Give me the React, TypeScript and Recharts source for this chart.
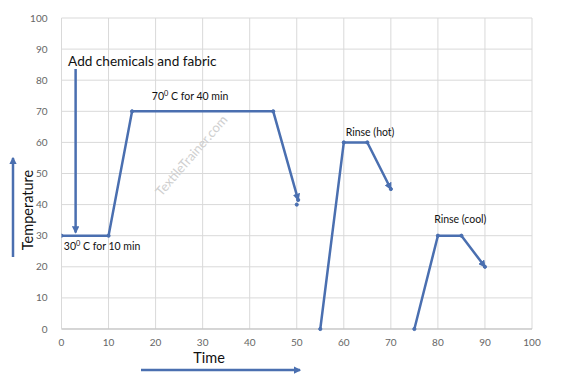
import React from 'react';
import { LineChart, Line, XAxis, YAxis, CartesianGrid, ReferenceDot } from 'recharts';

// wash cycle profile
const mainTime = [0, 10, 15, 45, 50.3];
const mainTemp = [30, 30, 70, 70, 41.5];
const dropTime = [50];
const dropTemp = [40];
const hotTime = [55, 60, 65, 70];
const hotTemp = [0, 60, 60, 45];
const coolTime = [75, 80, 85, 90];
const coolTemp = [0, 30, 30, 20];
const addTime = [3, 3];
const addTemp = [83.6, 31];

const ticks = [0, 10, 20, 30, 40, 50, 60, 70, 80, 90, 100];

const toRows = (xs: number[], ys: number[]) => xs.map((t, i) => ({ time: t, temp: ys[i] }));

const BLUE = '#4a6fb0';
const FONT = 'Lato, "Open Sans", sans-serif';

const notes = [
  { x: 1.4, y: 84.6, text: 'Add chemicals and fabric', size: 13.6 },
  { x: 19.2, y: 73.6, text: '70', sup: true, rest: ' C for 40 min', size: 10.5 },
  { x: 0.5, y: 25.4, text: '30', sup: true, rest: ' C for 10 min', size: 10.5 },
  { x: 60.4, y: 62.1, text: 'Rinse (hot)', size: 10.5 },
  { x: 79.2, y: 34, text: 'Rinse (cool)', size: 10.5 },
];

const dot = { r: 1.6, fill: BLUE, stroke: BLUE, strokeWidth: 1 };

export default function App() {
  return (
    <div style={{ position: 'absolute', left: 0, top: 0, background: '#fff' }}>
      <LineChart width={566} height={382} margin={{ top: 18, right: 34, bottom: 23, left: 21.5 }}>
        <defs>
          <marker id="arrowHead" viewBox="0 0 6 6" refX="5" refY="3" markerWidth="3" markerHeight="3" orient="auto">
            <path d="M0,0 L6,3 L0,6 z" fill={BLUE} />
          </marker>
        </defs>
        <CartesianGrid stroke="#d9d9d9" strokeWidth={1} />
        <XAxis
          type="number"
          dataKey="time"
          domain={[0, 100]}
          ticks={ticks}
          allowDataOverflow
          height={30}
          axisLine={{ stroke: '#bfbfbf' }}
          tickLine={false}
          tick={{ fill: '#666', fontSize: 10, fontFamily: FONT }}
          tickMargin={4}
        />
        <YAxis
          type="number"
          dataKey="temp"
          domain={[0, 100]}
          ticks={ticks}
          width={40}
          axisLine={{ stroke: '#d9d9d9' }}
          tickLine={false}
          tick={{ fill: '#666', fontSize: 10, fontFamily: FONT }}
          tickMargin={8}
        />
        <Line data={toRows(mainTime, mainTemp)} dataKey="temp" type="linear" stroke={BLUE} strokeWidth={2.5} dot={dot} markerEnd="url(#arrowHead)" isAnimationActive={false} />
        <Line data={toRows(dropTime, dropTemp)} dataKey="temp" type="linear" stroke={BLUE} strokeWidth={2.5} dot={dot} isAnimationActive={false} />
        <Line data={toRows(hotTime, hotTemp)} dataKey="temp" type="linear" stroke={BLUE} strokeWidth={2.5} dot={dot} markerEnd="url(#arrowHead)" isAnimationActive={false} />
        <Line data={toRows(coolTime, coolTemp)} dataKey="temp" type="linear" stroke={BLUE} strokeWidth={2.5} dot={dot} markerEnd="url(#arrowHead)" isAnimationActive={false} />
        <Line data={toRows(addTime, addTemp)} dataKey="temp" type="linear" stroke={BLUE} strokeWidth={2.5} dot={false} markerEnd="url(#arrowHead)" isAnimationActive={false} />
        {notes.map((n) => (
          <ReferenceDot
            key={n.text + n.x}
            x={n.x}
            y={n.y}
            r={0}
            ifOverflow="visible"
            shape={(p: any) => (
              <text x={p.cx} y={p.cy} fontSize={n.size} fontFamily={FONT} fill="#111">
                {n.text}
                {n.sup ? (
                  <>
                    <tspan dy={-4} fontSize={n.size * 0.7}>0</tspan>
                    <tspan dy={4}>{n.rest}</tspan>
                  </>
                ) : null}
              </text>
            )}
          />
        ))}
        <ReferenceDot
          x={27.8}
          y={55.5}
          r={0}
          ifOverflow="visible"
          shape={(p: any) => (
            <text
              x={p.cx}
              y={p.cy}
              fontSize={13}
              fontFamily={FONT}
              fill="#cfcfcf"
              textAnchor="middle"
              dominantBaseline="middle"
              transform={`rotate(-49 ${p.cx} ${p.cy})`}
            >
              TextileTrainer.com
            </text>
          )}
        />
        {/* axis captions with their arrows */}
        <line x1={13} y1={257} x2={13} y2={158} stroke={BLUE} strokeWidth={2.5} markerEnd="url(#arrowHead)" />
        <text x={0} y={0} transform="translate(33 210) rotate(-90)" textAnchor="middle" fontSize={14.5} fontFamily={FONT} fill="#111">
          Temperature
        </text>
        <text x={209} y={363} textAnchor="middle" fontSize={14.5} fontFamily={FONT} fill="#111">
          Time
        </text>
        <line x1={141} y1={370} x2={300} y2={370} stroke={BLUE} strokeWidth={2.5} markerEnd="url(#arrowHead)" />
      </LineChart>
    </div>
  );
}
